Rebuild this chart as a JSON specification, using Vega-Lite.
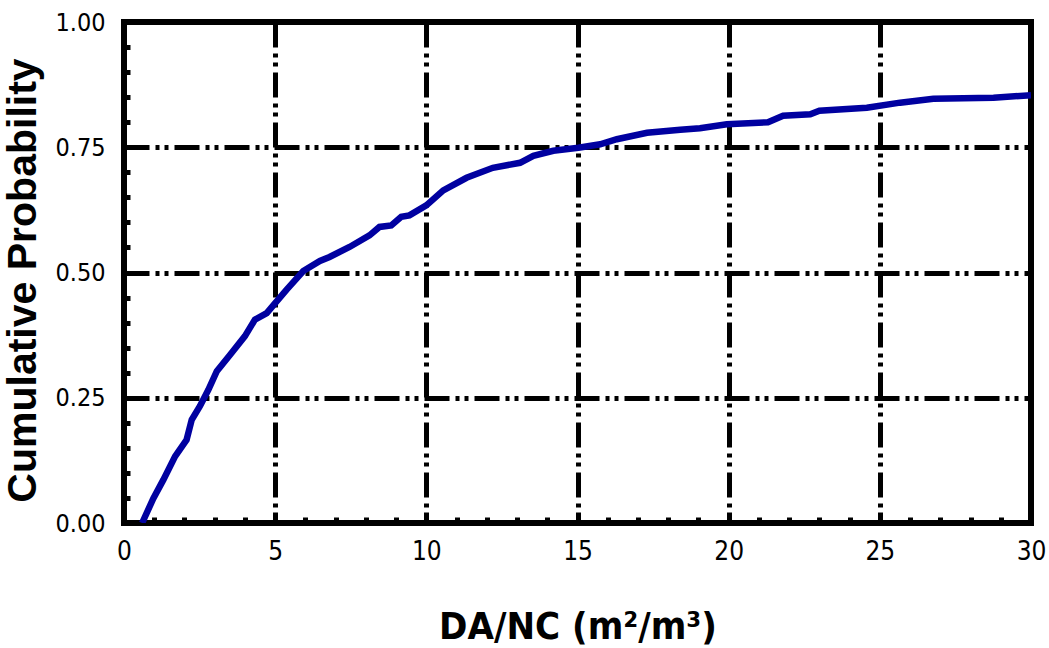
{
  "$schema": "https://vega.github.io/schema/vega-lite/v6.json",
  "autosize": "none",
  "width": 907,
  "height": 501,
  "padding": {"left": 124, "top": 22, "right": 18, "bottom": 125},
  "background": "white",
  "config": {
    "view": {"stroke": "black", "strokeWidth": 6},
    "axis": {"labelColor": "black", "titleColor": "black"}
  },
  "data": {
    "values": [
      {"x": 0.6, "y": 0.0},
      {"x": 0.97, "y": 0.049},
      {"x": 1.3, "y": 0.086},
      {"x": 1.69, "y": 0.133},
      {"x": 2.07, "y": 0.166},
      {"x": 2.24, "y": 0.206},
      {"x": 2.51, "y": 0.233},
      {"x": 2.79, "y": 0.266},
      {"x": 3.07, "y": 0.303},
      {"x": 3.51, "y": 0.336},
      {"x": 4.0, "y": 0.373},
      {"x": 4.33, "y": 0.406},
      {"x": 4.72, "y": 0.419},
      {"x": 5.0, "y": 0.439},
      {"x": 5.38, "y": 0.466},
      {"x": 5.93, "y": 0.503},
      {"x": 6.48, "y": 0.523},
      {"x": 6.8, "y": 0.531},
      {"x": 7.46, "y": 0.551},
      {"x": 8.12, "y": 0.574},
      {"x": 8.45, "y": 0.591},
      {"x": 8.84, "y": 0.594},
      {"x": 9.17, "y": 0.611},
      {"x": 9.44, "y": 0.614},
      {"x": 10.0, "y": 0.634},
      {"x": 10.56, "y": 0.664},
      {"x": 11.33, "y": 0.689},
      {"x": 12.2, "y": 0.709},
      {"x": 13.1, "y": 0.719},
      {"x": 13.54, "y": 0.733},
      {"x": 14.2, "y": 0.743},
      {"x": 15.03, "y": 0.749},
      {"x": 15.75, "y": 0.756},
      {"x": 16.3, "y": 0.766},
      {"x": 17.3, "y": 0.779},
      {"x": 18.4, "y": 0.785},
      {"x": 19.05, "y": 0.788},
      {"x": 19.94, "y": 0.796},
      {"x": 21.3, "y": 0.8},
      {"x": 21.8, "y": 0.813},
      {"x": 22.7, "y": 0.816},
      {"x": 23.0, "y": 0.823},
      {"x": 24.57, "y": 0.829},
      {"x": 25.67, "y": 0.839},
      {"x": 26.77, "y": 0.847},
      {"x": 28.76, "y": 0.849},
      {"x": 30.0, "y": 0.854}
    ]
  },
  "resolve": {"axis": {"x": "independent", "y": "independent"}},
  "layer": [
    {
      "mark": {"type": "line", "color": "#0000A0", "strokeWidth": 6.5, "clip": true},
      "encoding": {
        "x": {
          "field": "x", "type": "quantitative",
          "scale": {"domain": [0, 30], "nice": false, "zero": false},
          "axis": {
            "orient": "bottom",
            "values": [0, 5, 10, 15, 20, 25, 30],
            "format": "d",
            "grid": true, "gridColor": "black", "gridWidth": 5, "gridOpacity": 1,
            "gridDash": [25, 6, 4, 5, 4, 6],
            "domain": false,
            "ticks": true, "tickSize": -9, "tickWidth": 5, "tickColor": "black",
            "labelFont": "DejaVu Sans Condensed, Liberation Sans", "labelFontSize": 26, "labelPadding": 24,
            "labelBaseline": "top", "labelFlush": false, "labelOverlap": false,
            "title": "DA/NC (m²/m³)",
            "titleFont": "DejaVu Sans Condensed, Liberation Sans", "titleFontWeight": "bold", "titleFontSize": 38,
            "titlePadding": 44
          }
        },
        "y": {
          "field": "y", "type": "quantitative",
          "scale": {"domain": [0, 1], "nice": false},
          "axis": {
            "orient": "left",
            "values": [0, 0.25, 0.5, 0.75, 1],
            "format": ".2f",
            "grid": true, "gridColor": "black", "gridWidth": 5, "gridOpacity": 1,
            "gridDash": [25, 6, 4, 5, 4, 6],
            "domain": false,
            "ticks": true, "tickSize": -9, "tickWidth": 5, "tickColor": "black",
            "labelFont": "DejaVu Sans Condensed, Liberation Sans", "labelFontSize": 25, "labelPadding": 28,
            "labelFlush": false, "labelOverlap": false,
            "title": "Cumulative Probability",
            "titleFont": "Liberation Sans", "titleFontWeight": "bold", "titleFontSize": 41,
            "titlePadding": 10, "titleY": 258
          }
        }
      }
    },
    {
      "mark": {"type": "line", "opacity": 0},
      "encoding": {
        "x": {
          "field": "x", "type": "quantitative",
          "axis": {
            "orient": "bottom",
            "values": [1,2,3,4,6,7,8,9,11,12,13,14,16,17,18,19,21,22,23,24,26,27,28,29],
            "grid": false, "domain": false, "labels": false, "title": null,
            "ticks": true, "tickSize": -6, "tickWidth": 5, "tickColor": "black"
          }
        },
        "y": {
          "field": "y", "type": "quantitative",
          "axis": {
            "orient": "left",
            "values": [0.05,0.1,0.15,0.2,0.3,0.35,0.4,0.45,0.55,0.6,0.65,0.7,0.8,0.85,0.9,0.95],
            "grid": false, "domain": false, "labels": false, "title": null,
            "ticks": true, "tickSize": -6, "tickWidth": 5, "tickColor": "black"
          }
        }
      }
    }
  ]
}
